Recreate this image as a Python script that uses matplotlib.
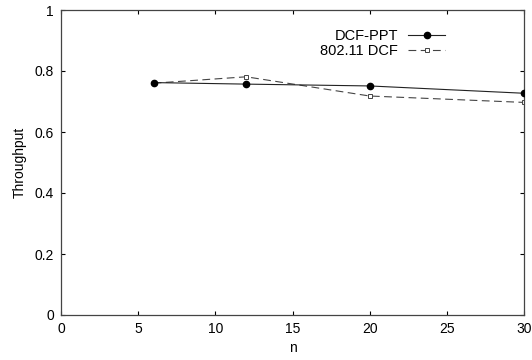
import matplotlib
matplotlib.use("Agg")
import matplotlib.pyplot as plt

plt.rcParams['font.family'] = ['Liberation Sans', 'DejaVu Sans']

n = [6, 12, 20, 30]
ppt = [0.762, 0.757, 0.751, 0.727]
dcf = [0.760, 0.781, 0.718, 0.697]

fig = plt.figure(figsize=(5.32, 3.6), dpi=100)
ax = fig.add_axes([61 / 532, 45 / 360, 463 / 532, 305 / 360])

ax.plot(n, ppt, color="#222222", lw=0.8, marker="o", ms=4.5, mfc="black", mec="black",
        label="DCF-PPT", zorder=3)
ax.plot(n, dcf, color="#444444", lw=0.8, ls=(0, (7, 4)), marker="s", ms=3.5,
        mfc="white", mec="#444444", mew=0.7, label="802.11 DCF", zorder=2)

ax.set_xlim(0, 30)
ax.set_ylim(0, 1)
ax.set_xticks([0, 5, 10, 15, 20, 25, 30])
ax.set_yticks([0, 0.2, 0.4, 0.6, 0.8, 1])
ax.set_yticklabels(["0", "0.2", "0.4", "0.6", "0.8", "1"])
ax.tick_params(direction="in", length=3, width=0.8, labelsize=10, top=True, right=True, pad=5)
for s in ax.spines.values():
    s.set_linewidth(0.9)
    s.set_color("#444444")
ax.set_xlabel("n", fontsize=10, labelpad=4)
ax.set_ylabel("Throughput", fontsize=10, labelpad=6)

ax.legend(loc="upper right", bbox_to_anchor=(0.845, 0.96), frameon=False, markerfirst=False,
          fontsize=10.5, handlelength=2.5, labelspacing=0.05, borderpad=0, handletextpad=0.7)

fig.savefig("out.png", dpi=100)
